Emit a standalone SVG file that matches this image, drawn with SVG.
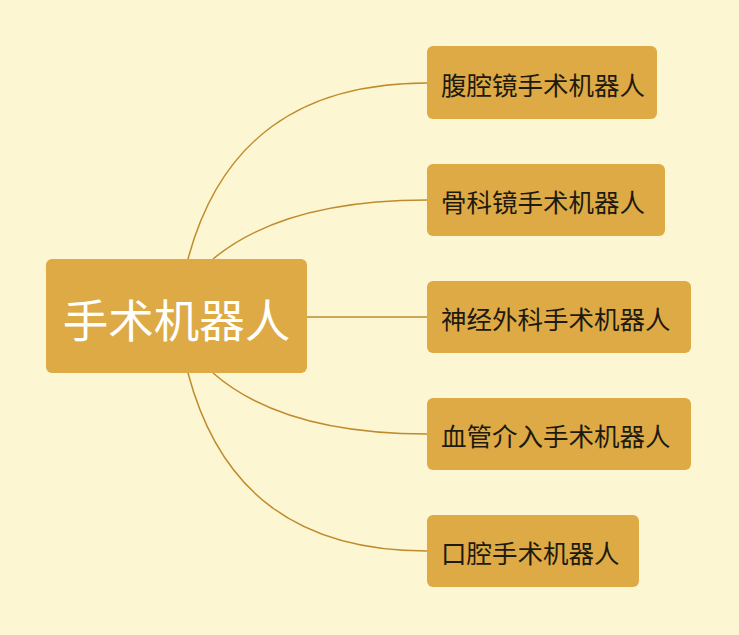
<svg xmlns="http://www.w3.org/2000/svg" width="739" height="635" viewBox="0 0 739 635">
<style>
.bg{fill:#FCF6D2}
.node{fill:#DDAA45}
.edge{fill:none;stroke:#C08B2C;stroke-width:1.5}
.t{font-family:"Noto Sans CJK SC","Noto Sans",sans-serif;font-size:25.5px;fill:#1e1a10;dominant-baseline:central}
.root{font-family:"Noto Sans CJK SC","Noto Sans",sans-serif;font-size:45.5px;fill:#ffffff;dominant-baseline:central;text-anchor:middle}
</style>
<rect class="bg" x="0" y="0" width="739" height="635"/>
<g id="connectors">
<path class="edge" d="M188,259 C220,140 300,83 427,83"/>
<path class="edge" d="M213,259 C260,220 330,200 427,200"/>
<path class="edge" d="M307,317 L427,317"/>
<path class="edge" d="M213,373 C260,414 330,434 427,434"/>
<path class="edge" d="M188,373 C220,494 300,551 427,551"/>
</g>
<g id="root">
<rect class="node" x="46" y="259" width="261" height="114" rx="6"/>
<text class="root" x="176.5" y="318">手术机器人</text>
</g>
<g id="n1">
<rect class="node" x="427" y="46" width="230" height="73" rx="6"/>
<text class="t" x="441" y="83">腹腔镜手术机器人</text>
</g>
<g id="n2">
<rect class="node" x="427" y="164" width="238" height="72" rx="6"/>
<text class="t" x="441" y="200">骨科镜手术机器人</text>
</g>
<g id="n3">
<rect class="node" x="427" y="281" width="264" height="72" rx="6"/>
<text class="t" x="441" y="317">神经外科手术机器人</text>
</g>
<g id="n4">
<rect class="node" x="427" y="398" width="264" height="72" rx="6"/>
<text class="t" x="441" y="434">血管介入手术机器人</text>
</g>
<g id="n5">
<rect class="node" x="427" y="515" width="212" height="72" rx="6"/>
<text class="t" x="441" y="551">口腔手术机器人</text>
</g>
</svg>
